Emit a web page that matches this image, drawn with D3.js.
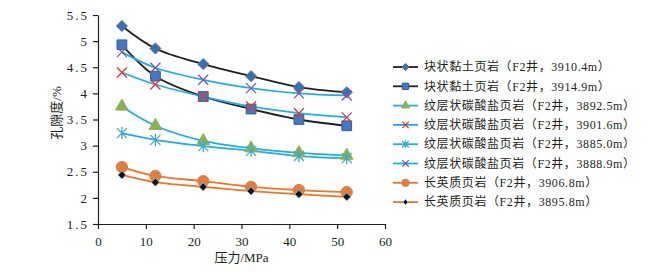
<!DOCTYPE html>
<html>
<head>
    <script src="https://cdnjs.cloudflare.com/ajax/libs/d3/7.8.5/d3.min.js"></script>
    <style>
        body { margin: 0; background: #fff; }
        text { font-family: "Liberation Serif", "Noto Sans CJK SC", serif; fill: #231f20; }
        .axis path, .axis line { stroke: #231f20; stroke-width: 1.2px; }
    </style>
</head>
<body>
    <div id="chart"></div>
    <script>
        const width = 667, height = 273;

        // pressure (MPa)
        const pressure = [5, 12, 22, 32, 42, 52];
        const seriesNames = [
            "块状黏土页岩（F2井，3910.4m）",
            "块状黏土页岩（F2井，3914.9m）",
            "纹层状碳酸盐页岩（F2井，3892.5m）",
            "纹层状碳酸盐页岩（F2井，3901.6m）",
            "纹层状碳酸盐页岩（F2井，3885.0m）",
            "纹层状碳酸盐页岩（F2井，3888.9m）",
            "长英质页岩（F2井，3906.8m）",
            "长英质页岩（F2井，3895.8m）"
        ];
        const clay1 = [5.29, 4.86, 4.56, 4.33, 4.12, 4.02];
        const clay2 = [4.93, 4.33, 3.94, 3.70, 3.50, 3.38];
        const lam1 = [3.75, 3.38, 3.09, 2.95, 2.86, 2.81];
        const lam2 = [4.40, 4.17, 3.94, 3.75, 3.62, 3.54];
        const lam3 = [3.24, 3.11, 2.99, 2.90, 2.80, 2.76];
        const lam4 = [4.79, 4.49, 4.26, 4.10, 4.00, 3.96];
        const fel1 = [2.59, 2.42, 2.32, 2.21, 2.15, 2.11];
        const fel2 = [2.44, 2.30, 2.21, 2.13, 2.07, 2.02];
        const xTicks = [0, 10, 20, 30, 40, 50, 60];
        const yTicks = [1.5, 2, 2.5, 3, 3.5, 4, 4.5, 5, 5.5];

        const styles = [
            { line: "#231f20", marker: "diamond", fill: "#3a70b0", stroke: "#3a70b0", size: 5.5 },
            { line: "#231f20", marker: "square", fill: "#3d7cc4", stroke: "#2c5f9a", size: 95 },
            { line: "#1bb0ea", marker: "triangle", fill: "#8bb150", stroke: "#8bb150", size: 70 },
            { line: "#1bb0ea", marker: "x", fill: "none", stroke: "#f0302c", size: 5 },
            { line: "#1bb0ea", marker: "star", fill: "none", stroke: "#3fa9c8", size: 5 },
            { line: "#1bb0ea", marker: "x", fill: "none", stroke: "#7b5aa6", size: 5 },
            { line: "#ee7426", marker: "circle", fill: "#e07f3c", stroke: "#e07f3c", size: 100 },
            { line: "#ee7426", marker: "diamond", fill: "#111", stroke: "#7aa6d8", size: 4 }
        ];
        const values = [clay1, clay2, lam1, lam2, lam3, lam4, fel1, fel2];

        const margin = { left: 98, top: 15, right: 282, bottom: 49 };
        const svg = d3.select("#chart").append("svg").attr("width", width).attr("height", height);

        const x = d3.scaleLinear().domain([0, 60]).range([margin.left, width - margin.right]);
        const y = d3.scaleLinear().domain([1.5, 5.5]).range([height - margin.bottom, margin.top]);

        const xAxis = svg.append("g").attr("class", "axis")
            .attr("transform", `translate(0,${y(1.5)})`)
            .call(d3.axisBottom(x).tickValues(xTicks).tickSize(5).tickSizeOuter(0));
        xAxis.selectAll("text").attr("dy", "1.1em").style("font-size", "13px");

        const yAxis = svg.append("g").attr("class", "axis")
            .attr("transform", `translate(${x(0)},0)`)
            .call(d3.axisLeft(y).tickValues(yTicks).tickSize(5).tickSizeOuter(0)
                .tickFormat(d => String(d)));
        yAxis.selectAll("text").attr("x", -9).style("font-size", "13px").style("letter-spacing", "2px");

        svg.append("text")
            .attr("x", (x(0) + x(60)) / 2)
            .attr("y", 262)
            .attr("text-anchor", "middle")
            .style("font-size", "13px")
            .text("压力/MPa");

        svg.append("text")
            .attr("transform", "translate(61,113) rotate(-90)")
            .attr("text-anchor", "middle")
            .style("font-size", "13px")
            .text("孔隙度/%");

        function drawMarker(g, s, scale) {
            const k = scale || 1;
            if (s.marker === "x") {
                const r = s.size * k;
                g.append("path").attr("d", `M${-r},${-r}L${r},${r}M${-r},${r}L${r},${-r}`)
                    .attr("stroke", s.stroke).attr("stroke-width", 1.3).attr("fill", "none");
            } else if (s.marker === "star") {
                const r = s.size * k;
                g.append("path").attr("d", `M${-r},${-r}L${r},${r}M${-r},${r}L${r},${-r}M0,${-r * 1.2}L0,${r * 1.2}`)
                    .attr("stroke", s.stroke).attr("stroke-width", 1.3).attr("fill", "none");
            } else if (s.marker === "diamond") {
                const r = s.size * k;
                g.append("path").attr("d", `M0,${-r}L${r},0L0,${r}L${-r},0Z`)
                    .attr("fill", s.fill).attr("stroke", s.stroke).attr("stroke-width", 1);
            } else {
                const type = { square: d3.symbolSquare, triangle: d3.symbolTriangle, circle: d3.symbolCircle }[s.marker];
                g.append("path").attr("d", d3.symbol().type(type).size(s.size * k * k)())
                    .attr("fill", s.fill).attr("stroke", s.stroke).attr("stroke-width", 1);
            }
        }

        const line = d3.line()
            .x((d, i) => x(pressure[i]))
            .y(d => y(d))
            .curve(d3.curveCatmullRom.alpha(0.5));

        values.forEach((vals, si) => {
            const s = styles[si];
            svg.append("path")
                .datum(vals)
                .attr("d", line)
                .attr("fill", "none")
                .attr("stroke", s.line)
                .attr("stroke-width", 1.8);
        });

        values.forEach((vals, si) => {
            const s = styles[si];
            svg.append("g").selectAll("g")
                .data(vals)
                .enter().append("g")
                .attr("transform", (d, i) => `translate(${x(pressure[i])},${y(d)})`)
                .each(function () { drawMarker(d3.select(this), s); });
        });

        // legend
        const legend = svg.append("g");
        seriesNames.forEach((name, i) => {
            const s = styles[i];
            const ly = 67 + i * 19.3;
            const row = legend.append("g").attr("transform", `translate(0,${ly})`);
            row.append("line").attr("x1", 393).attr("x2", 418).attr("y1", 0).attr("y2", 0)
                .attr("stroke", s.line).attr("stroke-width", 1.8);
            const m = row.append("g").attr("transform", "translate(405.5,0)");
            drawMarker(m, s, 0.65);
            row.append("text").attr("x", 424).attr("y", 0).attr("dy", "0.35em")
                .style("font-size", "12px").style("letter-spacing", "0.6px")
                .text(name);
        });
    </script>
</body>
</html>
